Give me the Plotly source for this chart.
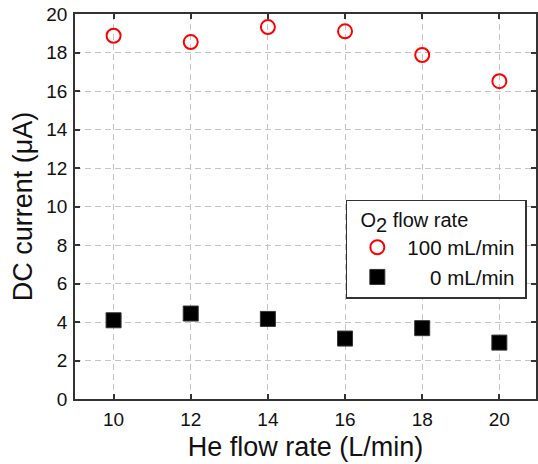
import plotly.graph_objects as go

# He flow rate (L/min)
he_flow = [10, 12, 14, 16, 18, 20]
# DC current (uA) at two O2 flow rates
current_o2_100 = [18.87, 18.54, 19.32, 19.10, 17.87, 16.51]
current_o2_0 = [4.09, 4.44, 4.16, 3.14, 3.68, 2.93]

x_ticks = [10, 12, 14, 16, 18, 20]
y_ticks = [0, 2, 4, 6, 8, 10, 12, 14, 16, 18, 20]

FONT = "Liberation Sans, Arial, sans-serif"
NB = "\u00a0"

fig = go.Figure()
fig.add_trace(go.Scatter(
    x=he_flow, y=current_o2_100, mode="markers", name="100 mL/min" + NB,
    marker=dict(symbol="circle-open", size=14, color="#ff0000",
                line=dict(width=2, color="#ff0000")),
))
fig.add_trace(go.Scatter(
    x=he_flow, y=current_o2_0, mode="markers",
    name=NB * 4 + "0 mL/min" + NB,
    marker=dict(symbol="square", size=15, color="#000000",
                line=dict(width=1, color="#333333")),
))

axis_common = dict(
    showline=True, linecolor="#333333", linewidth=1.5, mirror="ticks",
    ticks="inside", ticklen=5, tickwidth=1.5, tickcolor="#333333",
    showgrid=True, gridcolor="#c4c4c4", gridwidth=1.2, griddash="6px,4px",
    zeroline=False, tickfont=dict(size=19, color="#111111", family=FONT),
    ticklabelstandoff=2,
)

fig.update_xaxes(
    range=[9, 20.95], tickvals=x_ticks,
    title=dict(text="He flow rate (L/min)", font=dict(size=27, color="#111111"),
               standoff=9),
    **axis_common,
)
fig.update_yaxes(
    range=[0, 20], tickvals=y_ticks,
    title=dict(text="DC current (μA)", font=dict(size=27, color="#111111"),
               standoff=6),
    **axis_common,
)

fig.update_layout(
    width=538, height=464,
    margin=dict(l=75, r=0, t=14, b=65),
    paper_bgcolor="white", plot_bgcolor="white",
    font=dict(family=FONT, color="#111111"),
    showlegend=True,
    legend=dict(
        x=0.5875, y=0.517, xanchor="left", yanchor="top",
        bgcolor="white", bordercolor="#333333", borderwidth=1.5,
        font=dict(size=20.5, family=FONT, color="#111111"),
        title=dict(text=NB * 2 + "O<sub><span style=\"font-size:20px\">2</span></sub> flow rate",
                   font=dict(size=20, family=FONT, color="#111111"), side="top"),
        itemwidth=50,
    ),
)

fig.write_html("out.html")
